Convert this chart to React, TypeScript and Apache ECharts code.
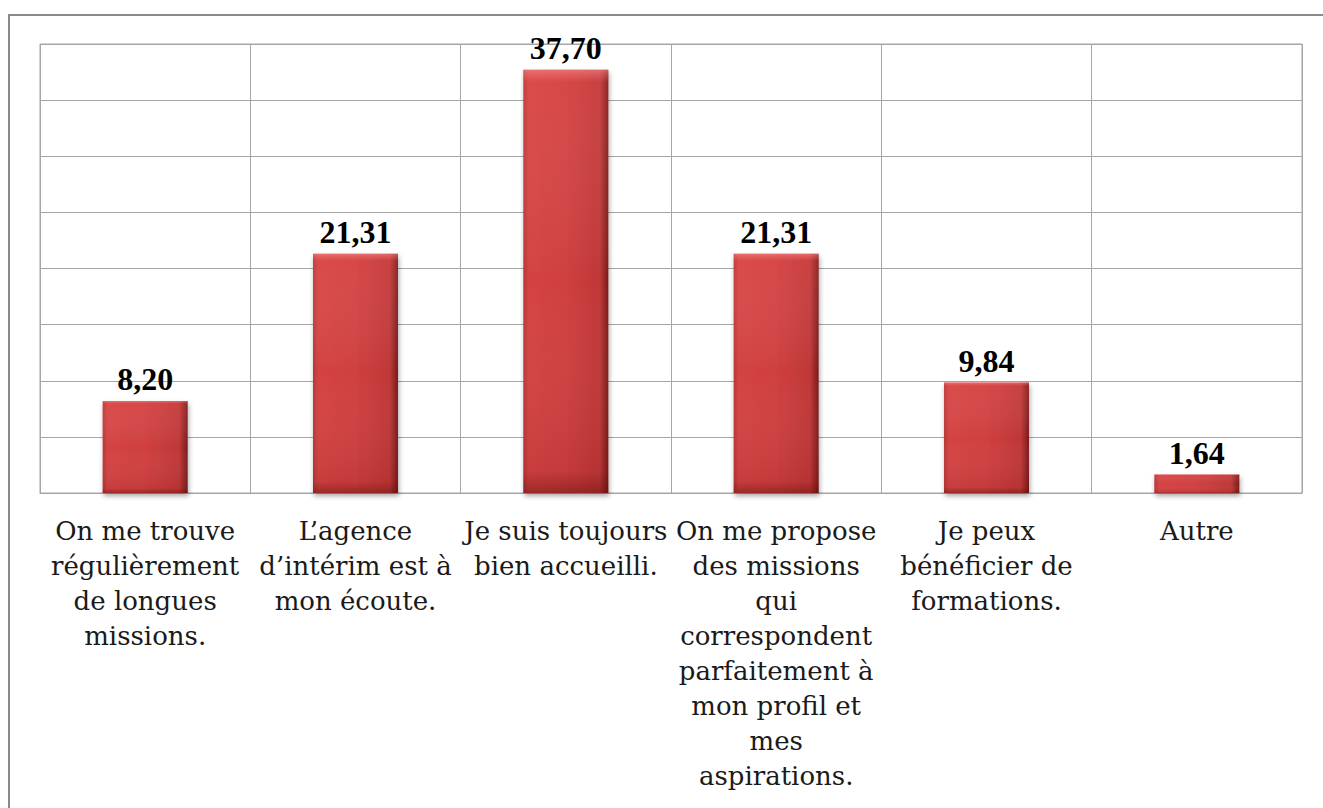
import React, { useEffect, useRef } from "react";
import * as echarts from "echarts";

const categories = [
  "On me trouve\nrégulièrement\nde longues\nmissions.",
  "L’agence\nd’intérim est à\nmon écoute.",
  "Je suis toujours\nbien accueilli.",
  "On me propose\ndes missions\nqui\ncorrespondent\nparfaitement à\nmon profil et\nmes\naspirations.",
  "Je peux\nbénéficier de\nformations.",
  "Autre",
];
const values = [8.2, 21.31, 37.7, 21.31, 9.84, 1.64];
const yMin = 0;
const yMax = 40;
const yInterval = 5;

export default function App() {
  const ref = useRef<HTMLDivElement>(null);
  useEffect(() => {
    if (!ref.current) return;
    const chart = echarts.init(ref.current, undefined, { renderer: "svg" });
    const font = "Liberation Serif";
    const catFont = "DejaVu Serif";
    chart.setOption({
      animation: false,
      backgroundColor: "#ffffff",
      graphic: [
        {
          type: "rect",
          shape: { x: 9, y: 15, width: 1400, height: 900 },
          style: { fill: "none", stroke: "#8a8a8a", lineWidth: 2 },
          z: 100,
        },
      ],
      grid: {
        left: 40,
        top: 44,
        right: 21,
        bottom: 315,
        show: true,
        borderColor: "#a6a6a6",
        borderWidth: 1,
      },
      xAxis: {
        type: "category",
        data: categories,
        axisTick: { show: false },
        axisLine: { show: true, lineStyle: { color: "#a6a6a6" } },
        splitLine: { show: true, lineStyle: { color: "#a6a6a6", width: 1 } },
        axisLabel: {
          interval: 0,
          margin: 20,
          color: "#1a1a1a",
          fontFamily: catFont,
          fontSize: 26,
          lineHeight: 35,
          align: "center",
        },
      },
      yAxis: {
        type: "value",
        min: yMin,
        max: yMax,
        interval: yInterval,
        axisLabel: { show: false },
        axisLine: { show: false },
        axisTick: { show: false },
        splitLine: { show: true, lineStyle: { color: "#a6a6a6", width: 1 } },
      },
      series: [
        {
          type: "bar",
          data: values,
          barWidth: 85,
          itemStyle: {
            color: new echarts.graphic.LinearGradient(0, 0, 1, 0, [
              { offset: 0, color: "#b53636" },
              { offset: 0.06, color: "#d44343" },
              { offset: 0.5, color: "#cf3f3f" },
              { offset: 0.9, color: "#bf3737" },
              { offset: 1, color: "#7a1a1a" },
            ]),
            shadowColor: "rgba(0,0,0,0.35)",
            shadowBlur: 5,
            shadowOffsetX: 1,
            shadowOffsetY: 3,
          },
          label: {
            show: true,
            position: "top",
            distance: 6,
            color: "#000",
            fontFamily: font,
            fontWeight: "bold",
            fontSize: 32,
            formatter: (p: any) => p.value.toFixed(2).replace(".", ","),
          },
          z: 2,
        },
        {
          type: "bar",
          data: values,
          barWidth: 85,
          barGap: "-100%",
          silent: true,
          itemStyle: {
            color: new echarts.graphic.LinearGradient(0, 0, 0, 1, [
              { offset: 0, color: "rgba(255,150,150,0.55)" },
              { offset: 0.03, color: "rgba(255,120,120,0.15)" },
              { offset: 0.5, color: "rgba(255,255,255,0)" },
              { offset: 0.95, color: "rgba(90,10,10,0.1)" },
              { offset: 1, color: "rgba(90,10,10,0.45)" },
            ]),
          },
          z: 3,
        },
      ],
    });
    return () => chart.dispose();
  }, []);
  return (
    <div
      ref={ref}
      style={{ position: "fixed", left: 0, top: 0, width: 1323, height: 808 }}
    />
  );
}
